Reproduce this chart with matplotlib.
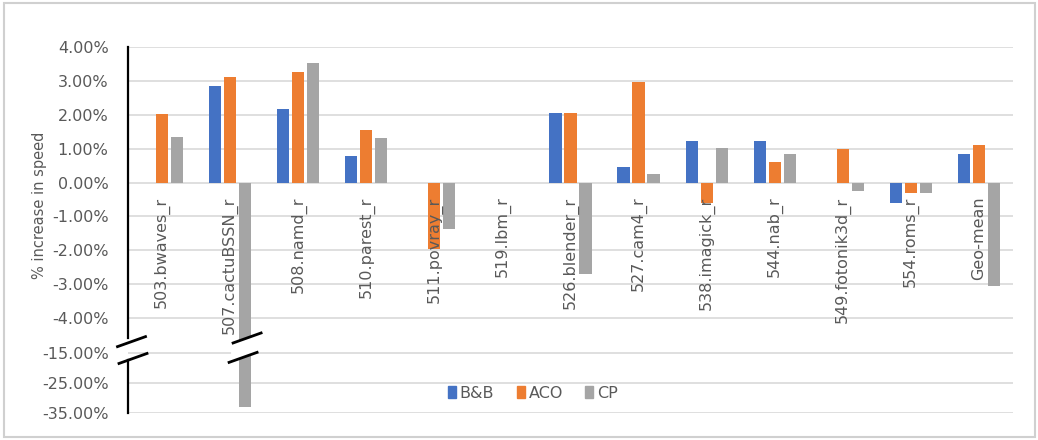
import numpy as np
import matplotlib
matplotlib.use("Agg")
import matplotlib.pyplot as plt
from matplotlib.patches import Patch, Rectangle, Polygon

# data (% increase in speed)
benchmarks = ['503.bwaves_r', '507.cactuBSSN_r', '508.namd_r', '510.parest_r',
              '511.povray_r', '519.lbm_r', '526.blender_r', '527.cam4_r',
              '538.imagick_r', '544.nab_r', '549.fotonik3d_r', '554.roms_r',
              'Geo-mean']
bnb = [0.0, 2.86, 2.17, 0.79, 0.0, 0.0, 2.05, 0.47, 1.23, 1.23, 0.0, -0.61, 0.83]
aco = [2.03, 3.11, 3.25, 1.56, -1.97, 0.0, 2.05, 2.96, -0.61, 0.60, 0.99, -0.32, 1.12]
cp = [1.34, -33.0, 3.52, 1.31, -1.37, 0.0, -2.71, 0.25, 1.02, 0.83, -0.26, -0.32, -3.04]

ytick_vals = [4, 3, 2, 1, 0, -1, -2, -3, -4, -15, -25, -35]

# broken axis: linear above -4, compressed below
real_pts = np.array([-35.0, -25.0, -15.0, -4.0, 4.0])
pos_pts = np.array([-6.80, -5.92, -5.03, -4.0, 4.0])

def fwd(v):
    return np.interp(v, real_pts, pos_pts, left=-7.5, right=5)

def inv(p):
    return np.interp(p, pos_pts, real_pts, left=-45, right=5)

TXT = '#595959'
colors = ['#4472C4', '#ED7D31', '#A5A5A5']
names = ['B&B', 'ACO', 'CP']

plt.rcParams['font.family'] = 'DejaVu Sans'
fig = plt.figure(figsize=(10.38, 4.4), dpi=100)
ax = fig.add_axes([128 / 1038, 27 / 440, 885 / 1038, 366 / 440])
ax.set_yscale('function', functions=(fwd, inv))

x = np.arange(len(benchmarks))
step, w = 0.22, 0.18
for i, (vals, c) in enumerate(zip([bnb, aco, cp], colors)):
    ax.bar(x + (i - 1) * step, vals, width=w, color=c, zorder=3)

ax.set_xlim(-0.5, len(benchmarks) - 0.5)
ax.set_ylim(-35, 4)
ax.set_yticks(ytick_vals)
ax.set_yticklabels(['%.2f%%' % v for v in ytick_vals], fontsize=11.5, color=TXT)
ax.yaxis.set_minor_locator(matplotlib.ticker.NullLocator())
ax.tick_params(axis='y', length=0, pad=14)
ax.set_xticks([])
ax.grid(axis='y', color='#d9d9d9', lw=1.2, zorder=0)
for s in ax.spines.values():
    s.set_visible(False)

# category labels hanging below zero line
for xi, name in zip(x, benchmarks):
    ax.annotate(name, (xi, 0), xytext=(0, -10), textcoords='offset points',
                rotation=90, ha='center', va='top', fontsize=11.5, color=TXT,
                zorder=4)

# left axis with break
ax.plot([0, 0], [1, 0.205], transform=ax.transAxes, color='black', lw=1.6,
        clip_on=False, zorder=5)
ax.plot([0, 0], [0.145, 0], transform=ax.transAxes, color='black', lw=1.6,
        clip_on=False, zorder=5)

hw, hr = 14 / 885, 5 / 366

def brk(xc, yc):
    ax.plot([xc - hw, xc + hw], [yc - hr, yc + hr], transform=ax.transAxes,
            color='black', lw=2.0, clip_on=False, zorder=6)

brk(3.5 / 885, 0.195)
brk(5 / 885, 0.149)

# break on the cactuBSSN CP bar
bx = (1 + step + 0.5) / len(benchmarks)
gap = Polygon([(bx - hw, 0.205 - hr), (bx + hw, 0.205 + hr),
               (bx + hw, 0.152 + hr), (bx - hw, 0.152 - hr)],
              closed=True, transform=ax.transAxes, facecolor='white',
              edgecolor='none', zorder=5)
ax.add_patch(gap)
brk(bx + 2 / 885, 0.205)
brk(bx - 2 / 885, 0.152)

ax.text(-0.5, 0, '')
fig.text(40 / 1038, 1 - 205 / 440, '% increase in speed', rotation=90,
         ha='center', va='center', fontsize=10.5, color=TXT)

handles = [Patch(color=c) for c in colors]
fig.legend(handles, names, loc='center', bbox_to_anchor=(533 / 1038, 1 - 393 / 440),
           ncol=3, frameon=False, fontsize=11.5, labelcolor=TXT,
           handlelength=0.5, handleheight=0.7, handletextpad=0.25,
           columnspacing=1.4)

fig.patches.append(Rectangle((4 / 1038, 3 / 440), 1031 / 1038, 434 / 440,
                             transform=fig.transFigure, fill=False,
                             edgecolor='#d0d0d0', lw=1.5))

fig.savefig('out.png', dpi=100)
